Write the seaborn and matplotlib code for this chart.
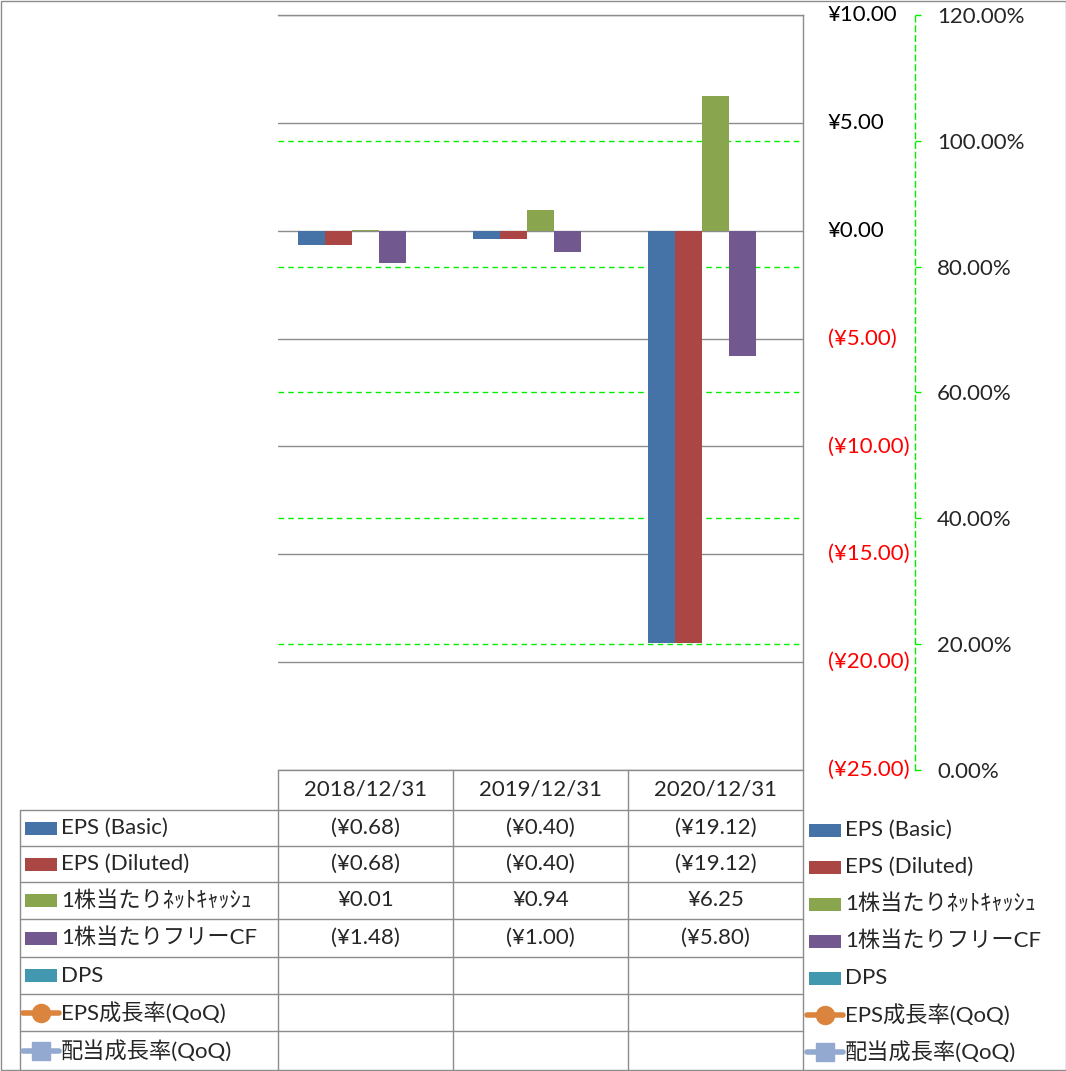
import numpy as np
import pandas as pd
import matplotlib.pyplot as plt
import matplotlib.transforms as mtransforms
import seaborn as sns
from matplotlib.patches import Rectangle

# ============================================================
# DATA
# ============================================================
dates = ["2018/12/31", "2019/12/31", "2020/12/31"]

eps_basic   = [-0.68, -0.40, -19.12]
eps_diluted = [-0.68, -0.40, -19.12]
net_cash    = [0.01, 0.94, 6.25]
free_cf     = [-1.48, -1.00, -5.80]
dps         = [np.nan, np.nan, np.nan]
eps_growth  = [np.nan, np.nan, np.nan]
div_growth  = [np.nan, np.nan, np.nan]

bar_names  = ["EPS (Basic)", "EPS (Diluted)", "1株当たりﾈｯﾄｷｬｯｼｭ", "1株当たりフリーCF", "DPS"]
bar_values = [eps_basic, eps_diluted, net_cash, free_cf, dps]
bar_colors = ["#4572A7", "#AA4643", "#89A54E", "#71588F", "#4198AF"]

line_names  = ["EPS成長率(QoQ)", "配当成長率(QoQ)"]
line_values = [eps_growth, div_growth]
line_colors = ["#DB843D", "#93A9CF"]
line_marks  = ["o", "s"]

yen_ticks = [-25, -20, -15, -10, -5, 0, 5, 10]
pct_ticks = [0.0, 0.2, 0.4, 0.6, 0.8, 1.0, 1.2]


def yen(v):
    if np.isnan(v):
        return ""
    return f"(¥{abs(v):.2f})" if v < 0 else f"¥{v:.2f}"


# ============================================================
# STYLE / FIGURE
# ============================================================
sns.set_style("white")
plt.rcParams["font.family"] = ["Lato", "Noto Sans CJK JP", "DejaVu Sans"]
plt.rcParams["font.size"] = 16

W, H = 1066, 1071
fig = plt.figure(figsize=(W / 100, H / 100), dpi=100)
GRID = "#8C8C8C"
LIME = "#00F000"

# plot area in pixels
X0, X1, Y0, Y1 = 278, 803, 15, 770
ax = fig.add_axes([X0 / W, 1 - Y1 / H, (X1 - X0) / W, (Y1 - Y0) / H])
ax2 = ax.twinx()
ax.set_zorder(2)
ax2.set_zorder(1)
ax.patch.set_visible(False)

# ============================================================
# BARS
# ============================================================
df = pd.DataFrame({
    "date":   dates * len(bar_names),
    "series": [n for n in bar_names for _ in dates],
    "value":  [v for vals in bar_values for v in vals],
})
sns.barplot(data=df, x="date", y="value", hue="series", hue_order=bar_names,
            palette=bar_colors, width=135 / 175, saturation=1, linewidth=0,
            errorbar=None, legend=False, ax=ax)

ax.set_xlim(-0.5, 2.5)
ax.set_ylim(-25, 10)
ax.set_yticks(yen_ticks)
ax.yaxis.grid(True, color=GRID, lw=1)
ax.set_axisbelow(True)
ax.set_xlabel("")
ax.set_ylabel("")
ax.tick_params(left=False, labelleft=False, bottom=False, labelbottom=False)
for side in ["left", "bottom"]:
    ax.spines[side].set_visible(False)
for side in ["right", "top"]:
    ax.spines[side].set_color(GRID)
    ax.spines[side].set_linewidth(1)

trans = mtransforms.blended_transform_factory(ax.transAxes, ax.transData)
for v in yen_ticks:
    ax.text((828 - X0) / (X1 - X0), v, yen(float(v)), transform=trans,
            ha="left", va="center", color="red" if v < 0 else "black")

# ============================================================
# SECONDARY AXIS (growth rates)
# ============================================================
for vals, c, m in zip(line_values, line_colors, line_marks):
    ax2.plot(range(len(dates)), vals, color=c, marker=m, lw=3)
ax2.set_ylim(0, 1.2)
ax2.set_yticks(pct_ticks)
ax2.set_yticklabels([f"{v * 100:.2f}%" for v in pct_ticks])
for p in pct_ticks[1:-1]:
    ax2.axhline(p, color=LIME, lw=1, ls=(0, (4, 3)), zorder=0)
for side in ["left", "top", "bottom"]:
    ax2.spines[side].set_visible(False)
ax2.spines["right"].set_position(("axes", (915 - X0) / (X1 - X0)))
ax2.spines["right"].set_color(LIME)
ax2.spines["right"].set_linestyle((0, (4, 3)))
ax2.spines["right"].set_linewidth(1)
ax2.tick_params(axis="y", right=True, length=4, width=1, color=LIME, pad=12, labelsize=16)

# ============================================================
# DATA TABLE + LEGEND
# ============================================================
tb = fig.add_axes([0, 0, 1, 1])
tb.set_zorder(0)
tb.set_xlim(0, W)
tb.set_ylim(H, 0)
tb.axis("off")

col_x = [278, 453, 628, 803]
row_y = [770, 810, 846, 882, 919, 957, 994, 1031, 1070]

tb.plot([col_x[0], col_x[-1]], [row_y[0]] * 2, color=GRID, lw=1)
for y in row_y[1:-1]:
    tb.plot([20, col_x[-1]], [y, y], color=GRID, lw=1)
tb.plot([20, 20], [row_y[1], row_y[-1]], color=GRID, lw=1)
for x in col_x[:-1]:
    tb.plot([x, x], [row_y[0], row_y[-1]], color=GRID, lw=1)
tb.plot([col_x[-1], col_x[-1]], [Y1, row_y[-1]], color=GRID, lw=1)
tb.add_patch(Rectangle((0.5, 0.5), W - 1, H - 1.5, fill=False, ec=GRID, lw=1))

for j, d in enumerate(dates):
    tb.text((col_x[j] + col_x[j + 1]) / 2, (row_y[0] + row_y[1]) / 2, d, ha="center", va="center")

all_names = bar_names + line_names
all_values = bar_values + line_values
for i, vals in enumerate(all_values):
    yc = (row_y[i + 1] + row_y[i + 2]) / 2
    for j, v in enumerate(vals):
        tb.text((col_x[j] + col_x[j + 1]) / 2, yc, yen(v), ha="center", va="center")


def draw_key(xl, yc, i):
    if i < len(bar_names):
        tb.add_patch(Rectangle((xl, yc - 6.5), 32, 13, color=bar_colors[i], lw=0))
    else:
        k = i - len(bar_names)
        tb.plot([xl - 2, xl + 34], [yc, yc], color=line_colors[k], lw=4, solid_capstyle="round")
        tb.plot([xl + 16], [yc], marker=line_marks[k], color=line_colors[k], markersize=13,
                lw=0)


for i, name in enumerate(all_names):
    yc = (row_y[i + 1] + row_y[i + 2]) / 2
    draw_key(25, yc, i)
    tb.text(61, yc, name, ha="left", va="center")

    yr = 830 + 37 * i
    draw_key(809, yr, i)
    tb.text(845, yr, name, ha="left", va="center")

fig.savefig("out.png", dpi=100)
